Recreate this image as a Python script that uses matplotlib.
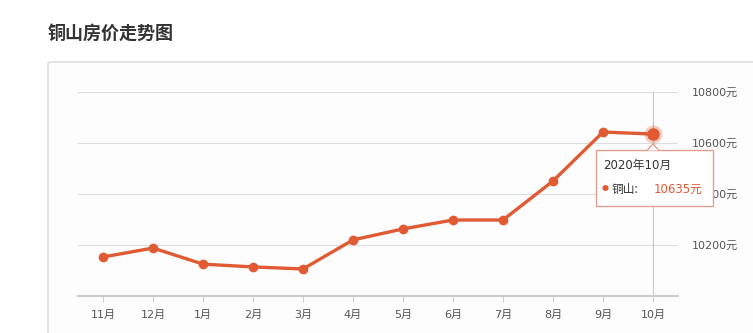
import matplotlib; matplotlib.use("Agg")
import matplotlib.pyplot as plt
from matplotlib.patches import FancyBboxPatch, Rectangle, Polygon

plt.rcParams['font.family'] = ['Noto Sans CJK SC', 'DejaVu Sans']

months = ["11月","12月","1月","2月","3月","4月","5月","6月","7月","8月","9月","10月"]
prices = [10153,10188,10125,10114,10106,10220,10263,10298,10298,10451,10643,10635]
yticks = [10200,10400,10600,10800]
title = "铜山房价走势图"
tip_date = "2020年10月"
tip_city = "铜山:"
tip_val = "10635元"

C = "#e05a33"
TICKFONT = ['DejaVu Sans', 'Noto Sans CJK SC']
W, H = 753, 333
fig = plt.figure(figsize=(W/100, H/100), dpi=100)
fig.patch.set_facecolor("white")

# outer panel
fig.patches.append(FancyBboxPatch((48/W, -0.1), 1.0, (H-62)/H + 0.1, boxstyle="round,pad=0,rounding_size=0.006",
                                  transform=fig.transFigure, fc="#fdfdfd", ec="#d8d8d8", lw=1, zorder=-5))
fig.text(48/W, 1-33/H, title, fontsize=13, color="#333333", va="center", ha="left", weight="bold")

ax = fig.add_axes([78/W, 1-296/H, 600/W, 204/H])
ax.set_facecolor("none")
x = list(range(len(months)))
ax.set_xlim(-0.5, len(months)-0.5)
ax.set_ylim(10000, 10800)
for v in yticks:
    ax.axhline(v, color="#dddddd", lw=0.8, zorder=0)
ax.axvline(len(months)-1, color="#c8c8c8", lw=0.8, zorder=1)
ax.axvline(len(months)-0.5, color="#dddddd", lw=0.8, zorder=0)
ax.plot(x, prices, color=C, lw=2.4, marker="o", ms=6, zorder=3)
ax.plot(x[-1], prices[-1], "o", ms=13, color=C, alpha=0.3, zorder=2, mec="none")
ax.plot(x[-1], prices[-1], "o", ms=8, color=C, zorder=4)

for s in ["top", "left", "right"]:
    ax.spines[s].set_visible(False)
ax.spines["bottom"].set_color("#cccccc")
ax.spines["bottom"].set_linewidth(1.5)
ax.set_xticks(x)
ax.set_xticklabels(months, fontsize=8, color="#555555", family=TICKFONT)
ax.tick_params(axis="x", length=4, color="#cccccc", pad=6)
ax.yaxis.tick_right()
ax.set_yticks(yticks)
ax.set_yticklabels([f"{v}元" for v in yticks], fontsize=8, color="#555555", family=TICKFONT)
ax.tick_params(axis="y", length=0, pad=10)

# tooltip
tx0, ty0, tw, th = 596/W, 1-206/H, 117/W, 56/H
fig.patches.append(Rectangle((tx0, ty0), tw, th, transform=fig.transFigure,
                             fc="white", ec="#e0a090", lw=1, zorder=10))
fig.patches.append(Polygon([(647/W, 1-150.5/H), (653/W, 1-144/H), (659/W, 1-150.5/H)], closed=False,
                           transform=fig.transFigure, fc="white", ec="#e0a090", lw=1, zorder=11))
fig.text(603/W, 1-165/H, tip_date, fontsize=8.5, color="#333333", va="center", zorder=12, family=TICKFONT)
fig.text(602/W, 1-189/H, "●", fontsize=5, color=C, va="center", zorder=12)
fig.text(612/W, 1-189/H, tip_city, fontsize=8.5, color="#333333", va="center", zorder=12)
fig.text(654/W, 1-189/H, tip_val, fontsize=8.5, color=C, va="center", zorder=12, family=TICKFONT)

fig.savefig("out.png", dpi=100)
